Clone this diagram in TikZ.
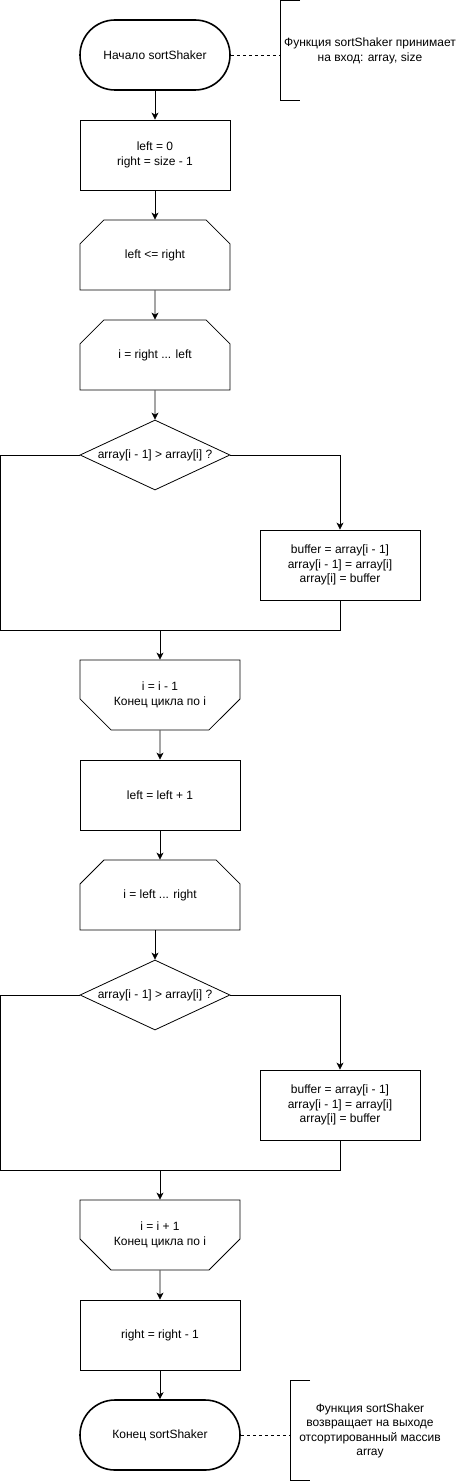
\documentclass[tikz,border=0pt]{standalone}
\usepackage{fontspec}
\setmainfont{Liberation Sans}
\usetikzlibrary{shapes.geometric,shapes.misc,arrows.meta}
\begin{document}
\begin{tikzpicture}[x=1pt,y=-1pt,line width=0.8pt,font=\fontsize{12}{14.4}\selectfont,
    arr/.style={-{Stealth[length=7pt,width=7pt,inset=2pt]}},
    term/.style={draw,rectangle,rounded corners=35pt,line width=1.6pt,minimum width=150pt,minimum height=70pt},
    proc/.style={draw,rectangle,align=center,minimum width=#1,minimum height=70pt},
    proc/.default=150pt,
    loopbeg/.style={draw,chamfered rectangle,chamfered rectangle corners={north west,north east},chamfered rectangle xsep=20pt,chamfered rectangle ysep=15pt,align=center,minimum width=#1,minimum height=70pt},
    loopbeg/.default=150pt,
    loopend/.style={draw,chamfered rectangle,chamfered rectangle corners={south west,south east},chamfered rectangle xsep=20pt,chamfered rectangle ysep=15pt,align=center,minimum width=160pt,minimum height=70pt},
    dec/.style={draw,diamond,aspect=2.14,inner sep=0pt,minimum width=150pt,minimum height=70pt}]
    \useasboundingbox (0,0) rectangle (461,1482);
    % upper part
    \node[term] (start) at (155,55) {Начало sortShaker};
    \node[proc] (init) at (155,155) {left = 0\\right = size - 1};
    \node[loopbeg] (main) at (155,255) {left <= right};
    \node[loopbeg] (down) at (155,355) {i = right ... left};
    \node[dec] (cmp1) at (155,455) {array[i - 1] > array[i] ?};
    \node[proc=160pt] (swap1) at (340,565) {buffer = array[i - 1]\\array[i - 1] = array[i]\\array[i] = buffer};
    \coordinate (l1) at (0.5,630);
    \coordinate (m1) at (160,630);
    \coordinate (r1) at (340,630);
    \node[loopend] (enddown) at (160,695) {i = i - 1\\Конец цикла по i};
    \node[proc=160pt] (incl) at (160,795) {left = left + 1};
    \node[loopbeg=160pt] (up) at (160,895) {i = left ... right};
    \node[dec] (cmp2) at (155,995) {array[i - 1] > array[i] ?};
    \node[proc=160pt] (swap2) at (340,1105) {buffer = array[i - 1]\\array[i - 1] = array[i]\\array[i] = buffer};
    \coordinate (l2) at (0.5,1170);
    \coordinate (m2) at (160,1170);
    \coordinate (r2) at (340,1170);
    \node[loopend] (endup) at (160,1235) {i = i + 1\\Конец цикла по i};
    \node[proc=160pt] (decr) at (160,1335) {right = right - 1};
    \node[term,minimum width=160pt] (stop) at (160,1435) {Конец sortShaker};
    % arrows
    \draw[arr] (start) -- (init);
    \draw[arr] (init) -- (main);
    \draw[arr] (main) -- (down);
    \draw[arr] (down) -- (cmp1);
    \draw[arr] (cmp1.east) -| (swap1.north);
    \draw (cmp1.west) -| (l1) -- (r1) -- (swap1.south);
    \draw[arr] (m1) -- (enddown);
    \draw[arr] (enddown) -- (incl);
    \draw[arr] (incl) -- (up);
    \draw[arr] (cmp2.north |- up.south) -- (cmp2.north);
    \draw[arr] (cmp2.east) -| (swap2.north);
    \draw (cmp2.west) -| (l2) -- (r2) -- (swap2.south);
    \draw[arr] (m2) -- (endup);
    \draw[arr] (endup) -- (decr);
    \draw[arr] (decr) -- (stop);
    % comments
    \node[align=center] (note1) at (370,51) {Функция sortShaker принимает\\на вход: array, size};
    \draw (300,0.5) -- (280,0.5) coordinate (b1) -- (280,100) -- (300,100);
    \draw[dashed] (start.east) -- (start.east -| b1);
    \node[align=center] (note2) at (370,1431) {Функция sortShaker\\возвращает на выходе\\отсортированный массив\\array};
    \draw (310,1380) -- (290,1380) coordinate (b2) -- (290,1480) -- (310,1480);
    \draw[dashed] (stop.east) -- (stop.east -| b2);
\end{tikzpicture}
\end{document}
